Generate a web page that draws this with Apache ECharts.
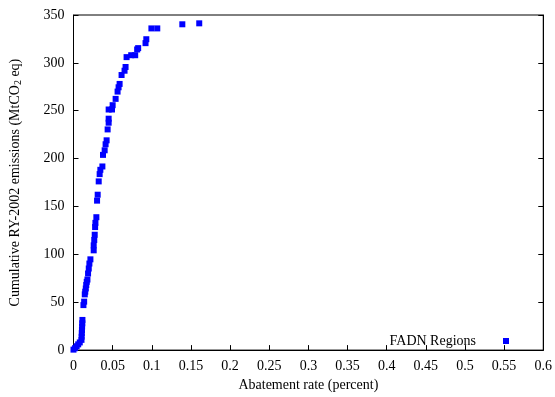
<!DOCTYPE html>
<html>
<head>
<meta charset="utf-8">
<script src="https://cdn.jsdelivr.net/npm/echarts@6/dist/echarts.min.js"></script>
<style>html,body{margin:0;padding:0;background:#fff;}#c{width:555px;height:397px;}</style>
</head>
<body>
<div id="c"></div>
<script>
var xValues = [0.000,0.002,0.004,0.006,0.008,0.0102,0.0104,0.0106,0.0108,0.011,0.0112,0.0114,0.0127,0.0136,0.0144,0.015,0.0157,0.0163,0.0169,0.0178,0.0186,0.0195,0.0203,0.0216,0.0258,0.0258,0.0265,0.0271,0.0276,0.028,0.0292,0.0301,0.0309,0.0322,0.0334,0.0343,0.0369,0.0377,0.0398,0.041,0.0423,0.0436,0.0449,0.0449,0.0449,0.0492,0.050,0.0538,0.0563,0.0576,0.0589,0.0614,0.0652,0.0665,0.0678,0.0737,0.0788,0.0813,0.0826,0.092,0.093,0.0995,0.107,0.139,0.1606];
var yValues = [0.5,2,4,6,8,10.7,14,17.7,21,24.6,28,31.5,47,50.6,58.2,61,64.4,68,71.3,73.7,80,85.2,90.4,94.8,104.2,109.4,115,120.5,128.5,132.9,138.8,156.1,162.3,176.2,183.8,188.3,191.8,203.9,208.7,215,219.1,230.5,237.5,241.7,251.3,251.3,255.8,262.4,270,274.5,278,287.3,291.8,295.7,306,308,308,314,315.4,320.6,324.7,336,336,340.3,341.3];
var seriesName = 'FADN Regions';
var xTitle = 'Abatement rate (percent)';
var yTitle = 'Cumulative RY-2002 emissions (MtCO{sub|2} eq)';

var pts = xValues.map(function(x, i){ return [x, yValues[i]]; });
var font = 'Liberation Serif';
var chart = echarts.init(document.getElementById('c'), null, {renderer: 'canvas'});
chart.setOption({
  animation: false,
  backgroundColor: '#fff',
  grid: {left: 72, right: 11, top: 15, bottom: 41, show: true, borderColor: '#000', borderWidth: 1, backgroundColor: 'transparent'},
  legend: {
    right: 41, top: 329, align: 'right', itemWidth: 6, itemHeight: 6,
    data: [{name: seriesName, icon: 'rect'}],
    textStyle: {fontFamily: font, fontSize: 14, color: '#000', padding: [0, 22, 0, 0]}
  },
  xAxis: {
    type: 'value', min: 0, max: 0.6, interval: 0.05,
    name: xTitle, nameLocation: 'middle', nameGap: 27,
    nameTextStyle: {fontFamily: font, fontSize: 14, color: '#000'},
    axisLine: {lineStyle: {color: '#000', width: 1}},
    axisTick: {inside: true, length: 5, lineStyle: {color: '#000'}},
    axisLabel: {fontFamily: font, fontSize: 14, color: '#000', margin: 9,
      formatter: function(v){ return String(+v.toFixed(2)); }},
    splitLine: {show: false}
  },
  yAxis: [{
    type: 'value', min: 0, max: 350, interval: 50,
    name: yTitle, nameLocation: 'middle', nameGap: 50,
    nameTextStyle: {fontFamily: font, fontSize: 14, color: '#000',
      rich: {sub: {fontFamily: font, fontSize: 10, color: '#000', padding: [7, 0, 0, 0]}}},
    axisLine: {lineStyle: {color: '#000', width: 1}},
    axisTick: {inside: true, length: 5, lineStyle: {color: '#000'}},
    axisLabel: {fontFamily: font, fontSize: 14, color: '#000', margin: 9},
    splitLine: {show: false}
  }, {
    type: 'value', min: 0, max: 350, interval: 50, position: 'right',
    axisLine: {show: true, lineStyle: {color: '#000', width: 1}},
    axisTick: {show: true, inside: true, length: 5, lineStyle: {color: '#000'}},
    axisLabel: {show: false},
    splitLine: {show: false}
  }],
  series: [{
    name: seriesName, type: 'scatter', symbol: 'rect', symbolSize: 6,
    itemStyle: {color: '#0000ff', opacity: 1},
    data: pts
  }]
});
</script>
</body>
</html>
